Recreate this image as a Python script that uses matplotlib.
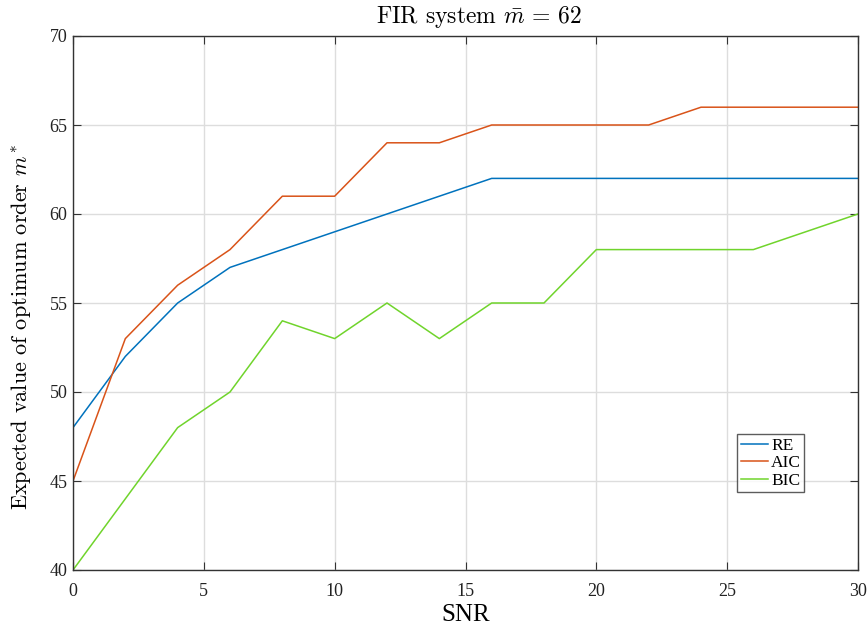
import numpy as np
import matplotlib
matplotlib.use('Agg')
from matplotlib import pyplot as plt

plt.rcParams['font.family'] = ['Liberation Serif', 'DejaVu Serif']
plt.rcParams['mathtext.fontset'] = 'cm'

snr = [0, 2, 4, 6, 8, 10, 12, 14, 16, 18, 20, 22, 24, 26, 28, 30]
re_vals = [48, 52, 55, 57, 58, 59, 60, 61, 62, 62, 62, 62, 62, 62, 62, 62]
aic_vals = [45, 53, 56, 58, 61, 61, 64, 64, 65, 65, 65, 65, 66, 66, 66, 66]
bic_vals = [40, 44, 48, 50, 54, 53, 55, 53, 55, 55, 58, 58, 58, 58, 59, 60]

fig = plt.figure(figsize=(8.68, 6.27), dpi=100)
ax = fig.add_axes([73/868, 57/627, 785/868, 534/627])

ax.plot(snr, re_vals, color='#0072BD', lw=1.1, label='RE')
ax.plot(snr, aic_vals, color='#D95319', lw=1.1, label='AIC')
ax.plot(snr, bic_vals, color='#70D42C', lw=1.1, label='BIC')

ax.set_xlim(0, 30)
ax.set_ylim(40, 70)
ax.set_xticks(np.arange(0, 31, 5))
ax.set_yticks(np.arange(40, 71, 5))
ax.grid(True, color='#dddddd', lw=1.0)
ax.set_axisbelow(True)
ax.tick_params(direction='in', top=True, right=True, length=6, labelsize=13,
               color='#333333', labelcolor='#222222')
ax.tick_params(axis='x', pad=9)
ax.tick_params(axis='y', pad=4)
for s in ax.spines.values():
    s.set_color('#333333')
    s.set_linewidth(1.0)

# title / ylabel come from latex in the original -> computer modern
ax.set_title(r'FIR system $\bar{m}\,=\,62$', fontsize=17, family='cmr10', x=0.517, pad=9)
ax.set_xlabel('SNR', fontsize=18, labelpad=3)
ax.set_ylabel(r'Expected value of optimum order $m^*$', fontsize=16, family='cmr10')
ax.yaxis.set_label_coords(-0.05, 0.455)

leg = ax.legend(loc='upper left', bbox_to_anchor=(0.846, 0.2547), fontsize=12.5,
                frameon=True, fancybox=False, borderpad=0.2, handlelength=1.6,
                handletextpad=0.15, labelspacing=0.08, borderaxespad=0)
leg.get_frame().set_edgecolor('#333333')
leg.get_frame().set_linewidth(1.0)

fig.savefig('out.png', dpi=100)
